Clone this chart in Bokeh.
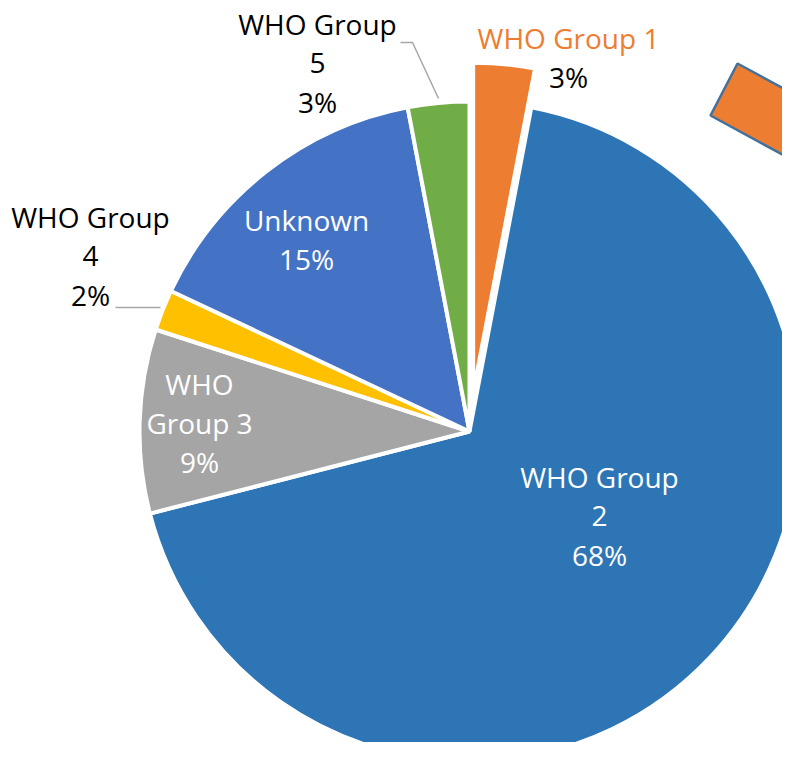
import math
from bokeh.plotting import figure
from bokeh.models import Range1d, ColumnDataSource
from bokeh.core.properties import value
from bokeh.embed import file_html
from bokeh.resources import INLINE

# ---------------- data ----------------
categories = ["WHO Group 1", "WHO Group 2", "WHO Group 3", "WHO Group 4", "Unknown", "WHO Group 5"]
percent = [3, 68, 9, 2, 15, 3]
name_lines = [["WHO Group 1"], ["WHO Group", "2"], ["WHO", "Group 3"],
              ["WHO Group", "4"], ["Unknown"], ["WHO Group", "5"]]

# ---------------- style / layout ----------------
colors = ["#ED7D31", "#2E75B6", "#A5A5A5", "#FFC000", "#4472C4", "#70AD47"]
name_colors = ["#ED7D31", "white", "white", "black", "white", "black"]
pct_colors = ["black", "white", "white", "black", "white", "black"]
explode_px = [39, 0, 0, 0, 0, 0]

W, H = 782, 742
SCREEN_H = 758
TEXT_SHIFT = 12             # empirical correction of baseline placement


def Y(sy):                  # screen y -> data y (data y grows upward)
    return SCREEN_H - sy


CX, CY = 469, Y(431)        # pie centre
R = 330
FONT = "Open Sans"
FS = "28px"
LINE_GAP = 39

# label anchor: centre x, first baseline (screen px)
label_anchor = [(568, 49), (599, 488), (199, 395), (90, 228), (306, 231), (317, 35)]

p = figure(width=W, height=H, output_backend="svg", toolbar_location=None,
           x_range=Range1d(0, W), y_range=Range1d(Y(H), Y(0)),
           min_border=0, min_border_left=0, min_border_right=0,
           min_border_top=0, min_border_bottom=0)
p.axis.visible = False
p.grid.visible = False
p.outline_line_color = None
p.background_fill_color = "white"
p.border_fill_color = "white"

# ---------------- wedges ----------------
total = float(sum(percent))
xs, ys, starts, ends = [], [], [], []
cum = 0.0
for v, ex in zip(percent, explode_px):
    f0 = cum / total
    f1 = (cum + v) / total
    cum += v
    a0 = math.pi / 2 - 2 * math.pi * f0
    a1 = math.pi / 2 - 2 * math.pi * f1
    mid = (a0 + a1) / 2
    xs.append(CX + ex * math.cos(mid))
    ys.append(CY + ex * math.sin(mid))
    starts.append(a1)
    ends.append(a0)

src = ColumnDataSource(dict(x=xs, y=ys, start=starts, end=ends, color=colors, cat=categories))
p.wedge(x="x", y="y", radius=R, start_angle="start", end_angle="end",
        fill_color="color", line_color="white", line_width=4, source=src)

# ---------------- decorative shape (top right) ----------------
ang = math.radians(28.5)
ux, uy = math.cos(ang), math.sin(ang)
A = (737, 63)
B = (710, 115)
L = 220
rect_x = [A[0], A[0] + L * ux, B[0] + L * ux, B[0]]
rect_y = [Y(A[1]), Y(A[1] + L * uy), Y(B[1] + L * uy), Y(B[1])]
p.patch(rect_x, rect_y, fill_color="#ED7D31", line_color="#41719C", line_width=2.5)

# ---------------- leader lines ----------------
p.line([400, 412, 438], [Y(42), Y(42), Y(98)], line_color="#A6A6A6", line_width=1.5)
p.line([115, 160], [Y(307), Y(307)], line_color="#A6A6A6", line_width=1.5)

# ---------------- labels ----------------
tx, ty, tt, tc = [], [], [], []
for names, v, (ax, ay), nc, pc in zip(name_lines, percent, label_anchor, name_colors, pct_colors):
    lines = names + [f"{v}%"]
    for k, t in enumerate(lines):
        tx.append(ax)
        ty.append(Y(ay + k * LINE_GAP - TEXT_SHIFT))
        tt.append(t)
        tc.append(pc if k == len(lines) - 1 else nc)

p.text(x=tx, y=ty, text=tt, text_color=tc, text_align="center",
       text_baseline="alphabetic", text_font=value(FONT), text_font_size=FS)

open("out.html", "w").write(file_html(p, INLINE))
